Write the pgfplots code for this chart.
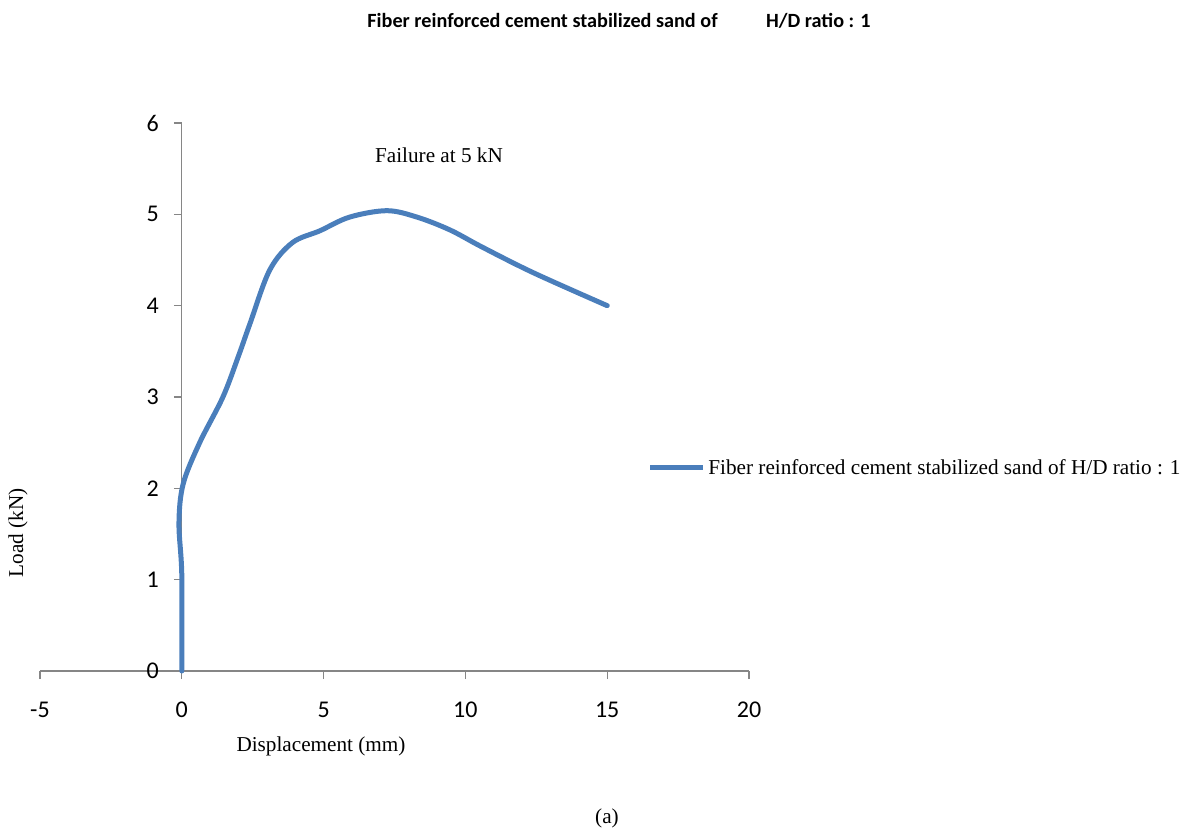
\documentclass[border=0pt]{standalone}
\usepackage{fontspec}
\setmainfont{Liberation Serif}
\newfontfamily\carlito{Carlito}
\usepackage{pgfplots}
\pgfplotsset{compat=1.18}
\definecolor{xlblue}{RGB}{74,126,187}
\definecolor{axgray}{RGB}{134,134,134}
\begin{document}
\begin{tikzpicture}
\useasboundingbox (0,0) rectangle (594.5pt,416pt);
\node[font=\carlito\bfseries\fontsize{10.1}{12}\selectfont] at (309.5pt,405.5pt) {Fiber reinforced cement stabilized sand of \hspace{1.95em} H/D ratio : 1};
\node[font=\fontsize{10.6}{12}\selectfont] at (303.5pt,7pt) {(a)};
\begin{axis}[
  at={(20pt,80.5pt)}, anchor=south west,
  scale only axis, width=354.5pt, height=274pt,
  xmin=-5, xmax=20, ymin=0, ymax=6,
  axis x line=middle, axis y line=middle,
  axis line style={draw=axgray, line width=0.6pt, -},
  xtick={-5,0,5,10,15,20}, ytick={0,1,2,3,4,5,6},
  hide obscured x ticks=false, hide obscured y ticks=false,
  tick style={draw=axgray, line width=0.6pt},
  major tick length=4pt, tick align=outside,
  /pgf/number format/assume math mode=true,
  ticklabel style={font=\carlito\fontsize{12}{14}\selectfont},
  xticklabel style={yshift=-8pt},
  yticklabel style={xshift=-4pt},
  clip=false,
]
\addplot[color=xlblue, line width=2.5pt, smooth, tension=0.55, line cap=round, line join=round] coordinates {
(0,0)(0,1.05)(-0.1,1.62)(0.05,2.05)(0.63,2.5)(1.45,3.0)(2.0,3.45)(2.4,3.8)(3.1,4.39)(3.9,4.69)(4.87,4.82)(5.92,4.97)(7.23,5.04)(8.29,4.97)(9.45,4.83)(10.6,4.64)(12.4,4.36)(15,4.0)
};
\end{axis}
\node[font=\fontsize{10.6}{12}\selectfont] at (160.5pt,43pt) {Displacement (mm)};
\node[font=\fontsize{10.6}{12}\selectfont, rotate=90] at (9pt,149.5pt) {Load (kN)};
\node[font=\fontsize{10.6}{12}\selectfont] at (219.5pt,338.5pt) {Failure at 5 kN};
\draw[xlblue, line width=2.5pt] (325pt,182.5pt) -- (351.5pt,182.5pt);
\node[font=\fontsize{10.6}{12}\selectfont, anchor=west, inner sep=0pt] at (354pt,182.5pt) {Fiber reinforced cement stabilized sand of H/D ratio : 1};
\end{tikzpicture}
\end{document}
